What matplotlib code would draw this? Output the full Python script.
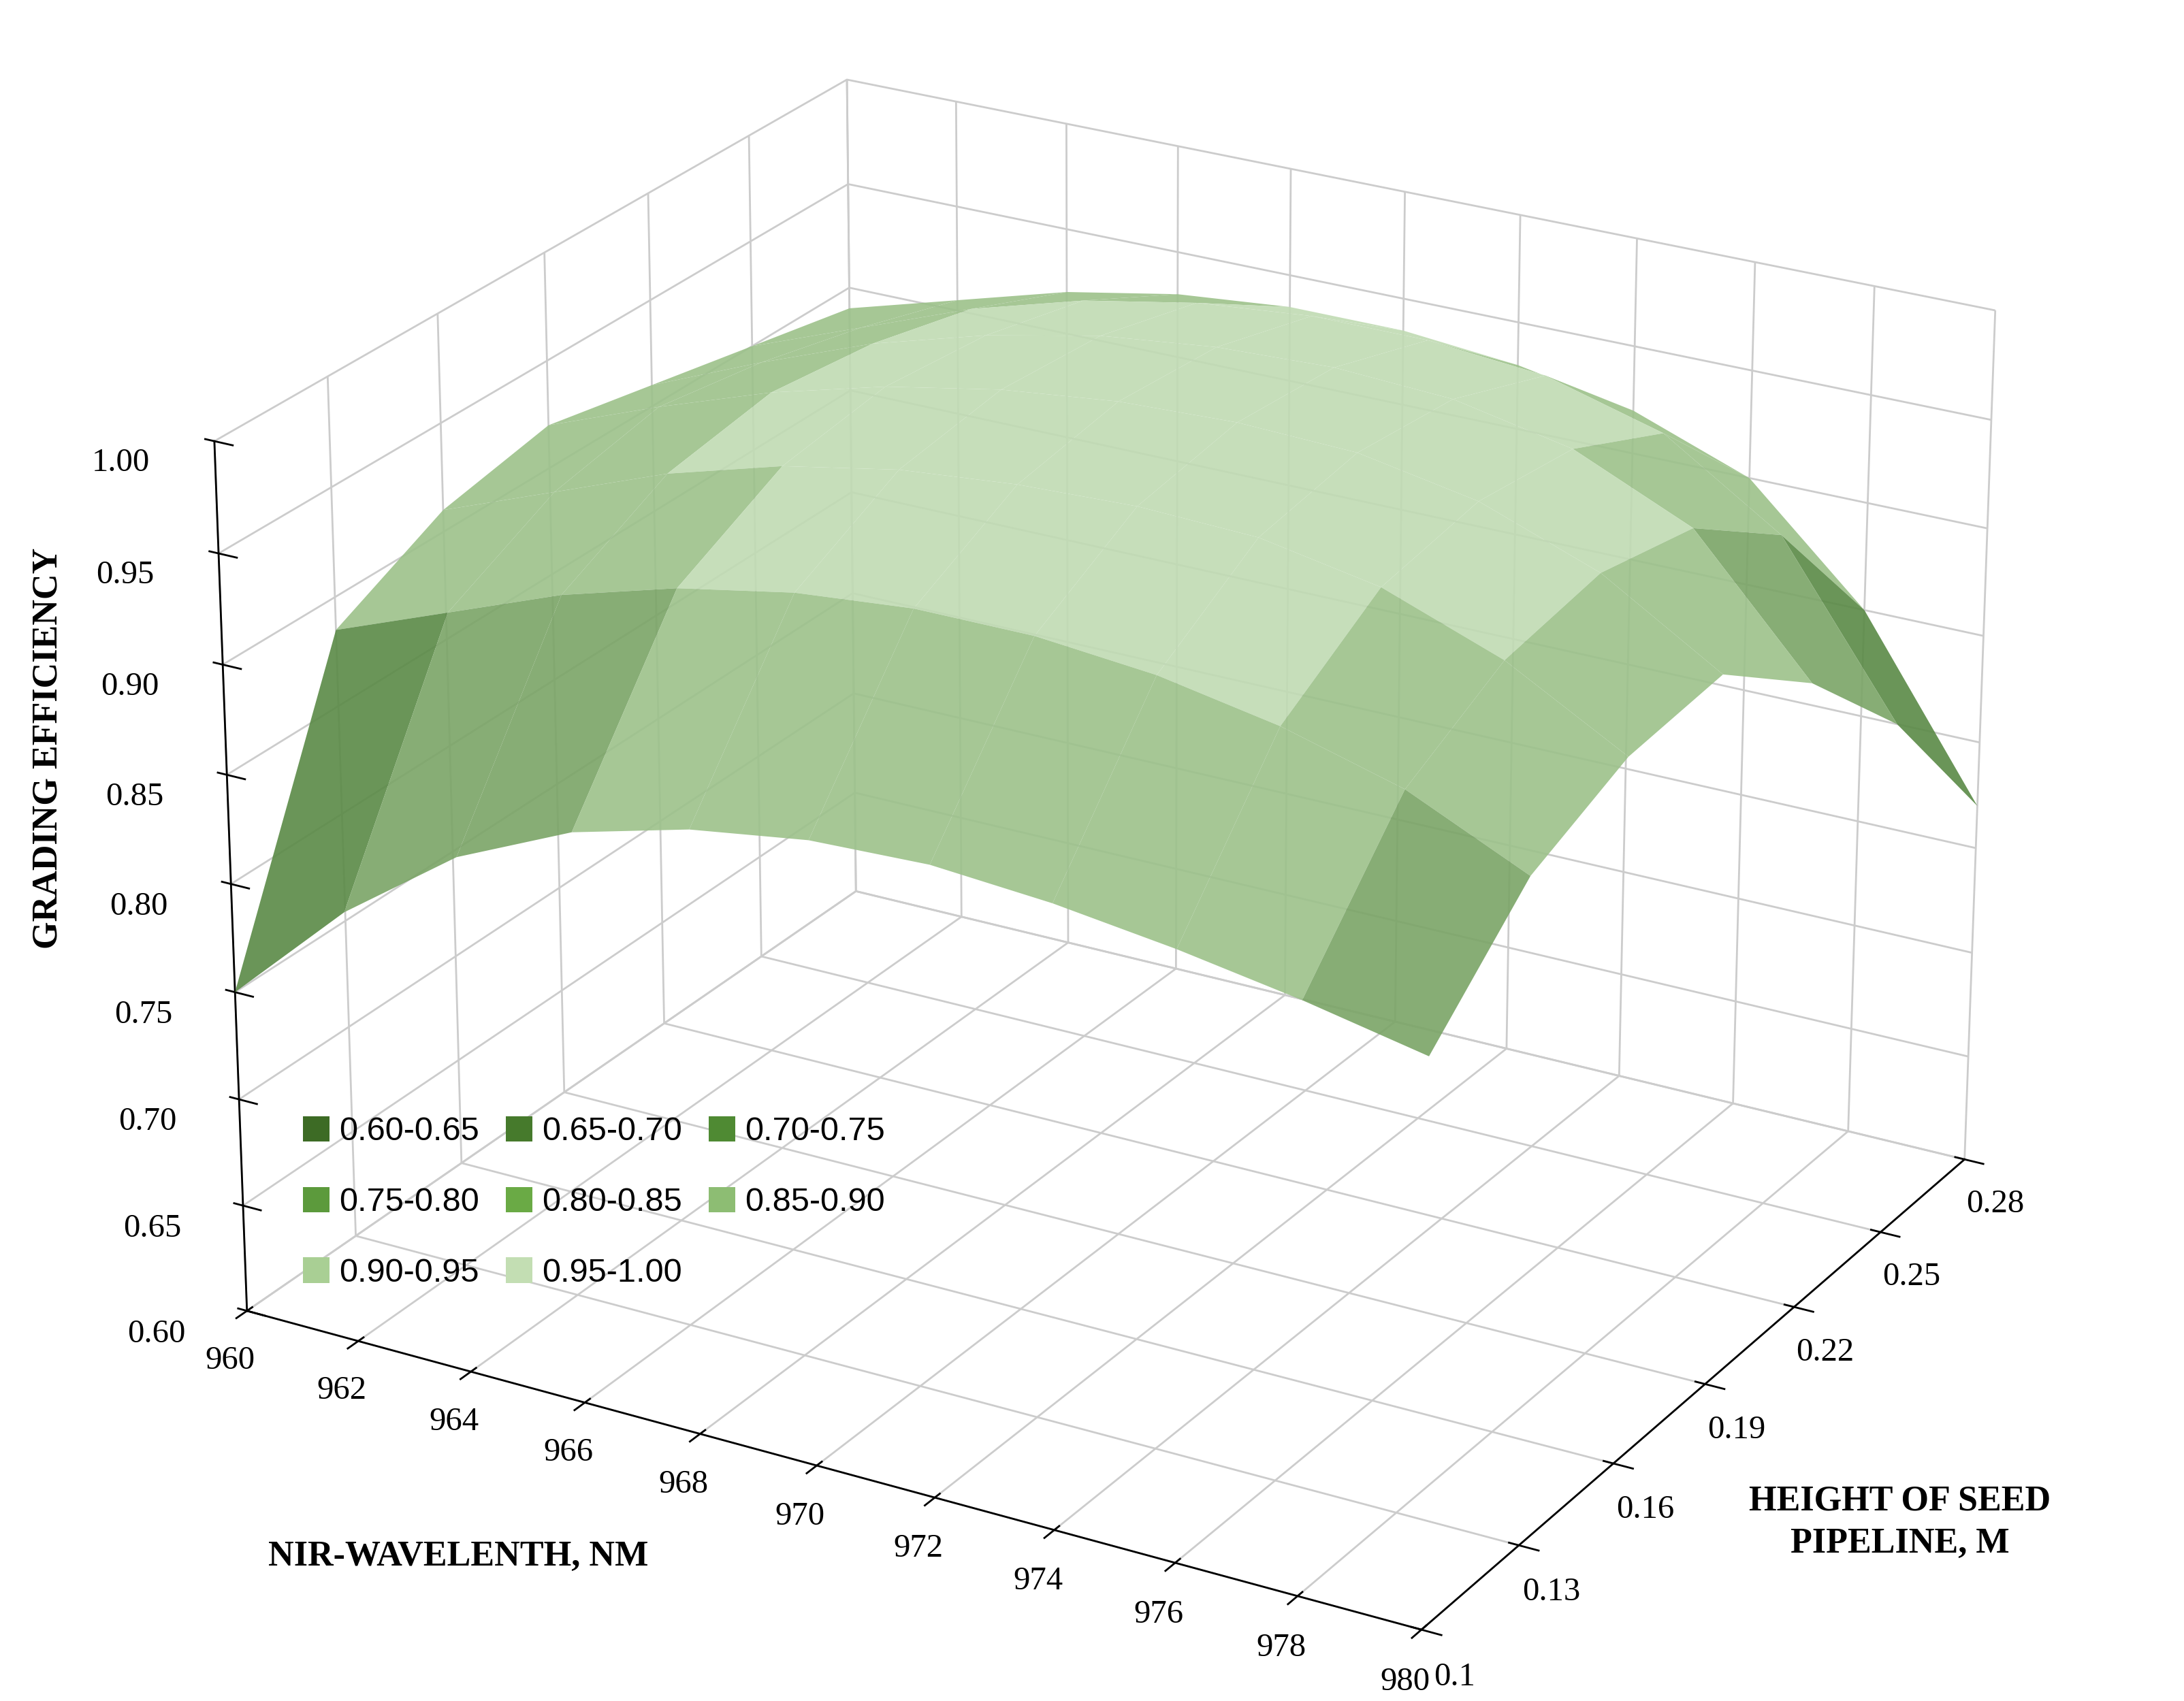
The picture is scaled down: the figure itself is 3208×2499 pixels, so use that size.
import numpy as np
import matplotlib
matplotlib.use("Agg")
import matplotlib.pyplot as plt
from matplotlib.patches import Patch
from matplotlib.colors import to_rgba

plt.rcParams['font.family'] = ['Liberation Serif', 'DejaVu Serif']

wavelength = [960, 962, 964, 966, 968, 970, 972, 974, 976, 978, 980]
height = [0.10, 0.13, 0.16, 0.19, 0.22, 0.25, 0.28]
efficiency = [
    [0.750, 0.800, 0.838, 0.862, 0.876, 0.884, 0.886, 0.882, 0.875, 0.866, 0.855],
    [0.885, 0.905, 0.925, 0.940, 0.950, 0.955, 0.955, 0.950, 0.940, 0.925, 0.900],
    [0.910, 0.930, 0.950, 0.965, 0.975, 0.980, 0.982, 0.980, 0.970, 0.950, 0.920],
    [0.920, 0.940, 0.958, 0.972, 0.982, 0.988, 0.990, 0.988, 0.978, 0.958, 0.925],
    [0.910, 0.932, 0.952, 0.967, 0.978, 0.984, 0.986, 0.983, 0.972, 0.948, 0.890],
    [0.900, 0.920, 0.940, 0.955, 0.965, 0.970, 0.970, 0.965, 0.950, 0.915, 0.840],
    [0.890, 0.905, 0.920, 0.930, 0.935, 0.935, 0.930, 0.920, 0.900, 0.850, 0.770],
]
bands = ['0.60-0.65', '0.65-0.70', '0.70-0.75', '0.75-0.80',
         '0.80-0.85', '0.85-0.90', '0.90-0.95', '0.95-1.00']
band_colors = ['#3d6b25', '#467a2c', '#4f8a33', '#5c9a3c',
               '#6aaa45', '#8dbd73', '#a9cf94', '#c3deb3']
surf_colors = ['#3d6b25', '#467a2c', '#4f8a33', '#45752c',
               '#5a8a46', '#7aa466', '#9cc18a', '#c0dbb3']

X, Y = np.meshgrid(np.array(wavelength, float), np.array(height, float))
Z = np.array(efficiency)

fig = plt.figure(figsize=(12.832, 9.996), dpi=250)
ax = fig.add_axes([-0.07, -0.068, 1.14, 1.15], projection='3d')
ax.set_box_aspect((1.14, 1.0, 0.8))
ax.view_init(elev=24, azim=-60)

zc = (Z[:-1, :-1] + Z[1:, 1:] + Z[1:, :-1] + Z[:-1, 1:]) / 4
idx = np.clip(((zc - 0.60) / 0.05).astype(int), 0, 7)
fc = np.empty(zc.shape + (4,))
for i in range(zc.shape[0]):
    for j in range(zc.shape[1]):
        fc[i, j] = to_rgba(surf_colors[idx[i, j]], 0.9)
ax.plot_surface(X, Y, Z, facecolors=fc, rstride=1, cstride=1,
                linewidth=0, antialiased=True, shade=False)

ax.set_xlim(960, 980)
ax.set_ylim(0.1, 0.28)
ax.set_zlim(0.6, 1.0)
ax.set_xticks(wavelength)
ax.set_yticks(height)
ax.set_yticklabels(['0.1', '0.13', '0.16', '0.19', '0.22', '0.25', '0.28'])
zt = np.arange(0.60, 1.001, 0.05)
ax.set_zticks(zt)
ax.set_zticklabels([f'{v:.2f}' for v in zt])
ax.tick_params(labelsize=14)
ax.tick_params(axis='z', pad=14)

ax.zaxis._axinfo['juggled'] = (1, 2, 0)
for a in (ax.xaxis, ax.yaxis, ax.zaxis):
    a.set_pane_color((1, 1, 1, 0))
    a._axinfo['grid']['color'] = (0.8, 0.8, 0.8, 1)
    a._axinfo['grid']['linewidth'] = 0.8
    a.line.set_color('black')

fig.text(0.21, 0.085, 'NIR-WAVELENTH, NM', fontsize=15, fontweight='bold',
         ha='center', va='center')
fig.text(0.87, 0.105, 'HEIGHT OF SEED\nPIPELINE, M', fontsize=15, fontweight='bold',
         ha='center', va='center', linespacing=1.4)
fig.text(0.022, 0.56, 'GRADING EFFICIENCY', fontsize=15, fontweight='bold',
         ha='center', va='center', rotation=90)

order = [0, 3, 6, 1, 4, 7, 2, 5]
handles = [Patch(facecolor=band_colors[i], label=bands[i]) for i in order]
fig.legend(handles=handles, ncol=3, loc='lower left', bbox_to_anchor=(0.125, 0.225),
           frameon=False, handlelength=0.8, handleheight=0.8,
           columnspacing=0.8, handletextpad=0.3, labelspacing=1.2,
           prop={'family': 'Liberation Sans', 'size': 14})

fig.savefig('out.png', dpi=250)
